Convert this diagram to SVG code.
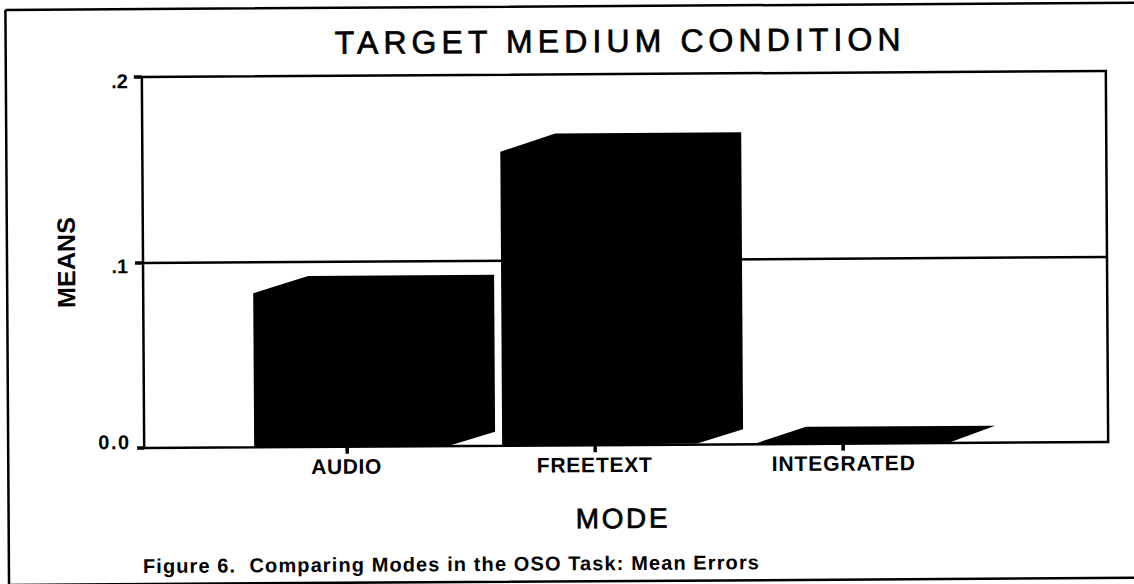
<svg xmlns="http://www.w3.org/2000/svg" width="1134" height="584" viewBox="0 0 1134 584">
<style>
  .ln { stroke: #000; fill: none; stroke-width: 2.5; }
  .bar { fill: #000; stroke: none; }
  .tick { stroke: #000; stroke-width: 3.5; }
  .t { font-family: "Liberation Sans", Arial, sans-serif; fill: #000; }
  .thick { stroke: #000; stroke-width: 0.7; }
  .cat { font-size: 21px; font-weight: bold; text-anchor: middle; }
  .ytl { font-size: 20px; font-weight: bold; text-anchor: end; }
</style>
<rect width="1134" height="584" fill="#fff"/>
<g transform="rotate(-0.36 625 260)">
  <g id="border">
    <path class="ln" d="M7,6 H1145 M7,6 V590 M7,581 H1145" stroke-width="2"/>
  </g>
  <g id="title">
    <text class="t thick" x="619" y="52" font-size="32" text-anchor="middle" textLength="566" lengthAdjust="spacing">TARGET MEDIUM CONDITION</text>
  </g>
  <g id="axes">
    <path class="ln" d="M143,74 H1107 V445 H143 Z"/>
    <path class="ln" d="M143,260 H1107" stroke-width="2"/>
    <path class="tick" d="M135,74 H143 M135,260 H143 M136,445 H143"/>
    <path class="tick" d="M346,445 V452 M594,445 V452 M842,445 V452"/>
    <text class="t ytl" x="129" y="85">.2</text>
    <text class="t ytl" x="128" y="270">.1</text>
    <text class="t ytl" x="128" y="446" textLength="31" lengthAdjust="spacing">0.0</text>
    <text class="t" transform="translate(75,259) rotate(-90)" font-size="25" font-weight="bold" text-anchor="middle" textLength="91" lengthAdjust="spacing">MEANS</text>
  </g>
  <g id="bar-audio">
    <polygon class="bar" points="253,291 308,274 494,274 494,431 447,445 253,445"/>
    <text class="t cat" x="345" y="472" textLength="70" lengthAdjust="spacing">AUDIO</text>
  </g>
  <g id="bar-freetext">
    <polygon class="bar" points="501,151 556,133 742,133 742,430 696,444 501,445"/>
    <text class="t cat" x="593" y="472" textLength="115" lengthAdjust="spacing">FREETEXT</text>
  </g>
  <g id="bar-integrated">
    <polygon class="bar" points="752,445 805,428 994,428 947,445"/>
    <text class="t cat" x="842" y="472" textLength="143" lengthAdjust="spacing">INTEGRATED</text>
  </g>
  <g id="xlabel">
    <text class="t thick" x="620" y="528" font-size="28" text-anchor="middle" textLength="92" lengthAdjust="spacing">MODE</text>
  </g>
  <g id="caption">
    <text class="t" x="141" y="570" font-size="20" font-weight="bold" xml:space="preserve" textLength="616" lengthAdjust="spacing">Figure 6.  Comparing Modes in the OSO Task: Mean Errors</text>
  </g>
</g>
</svg>
